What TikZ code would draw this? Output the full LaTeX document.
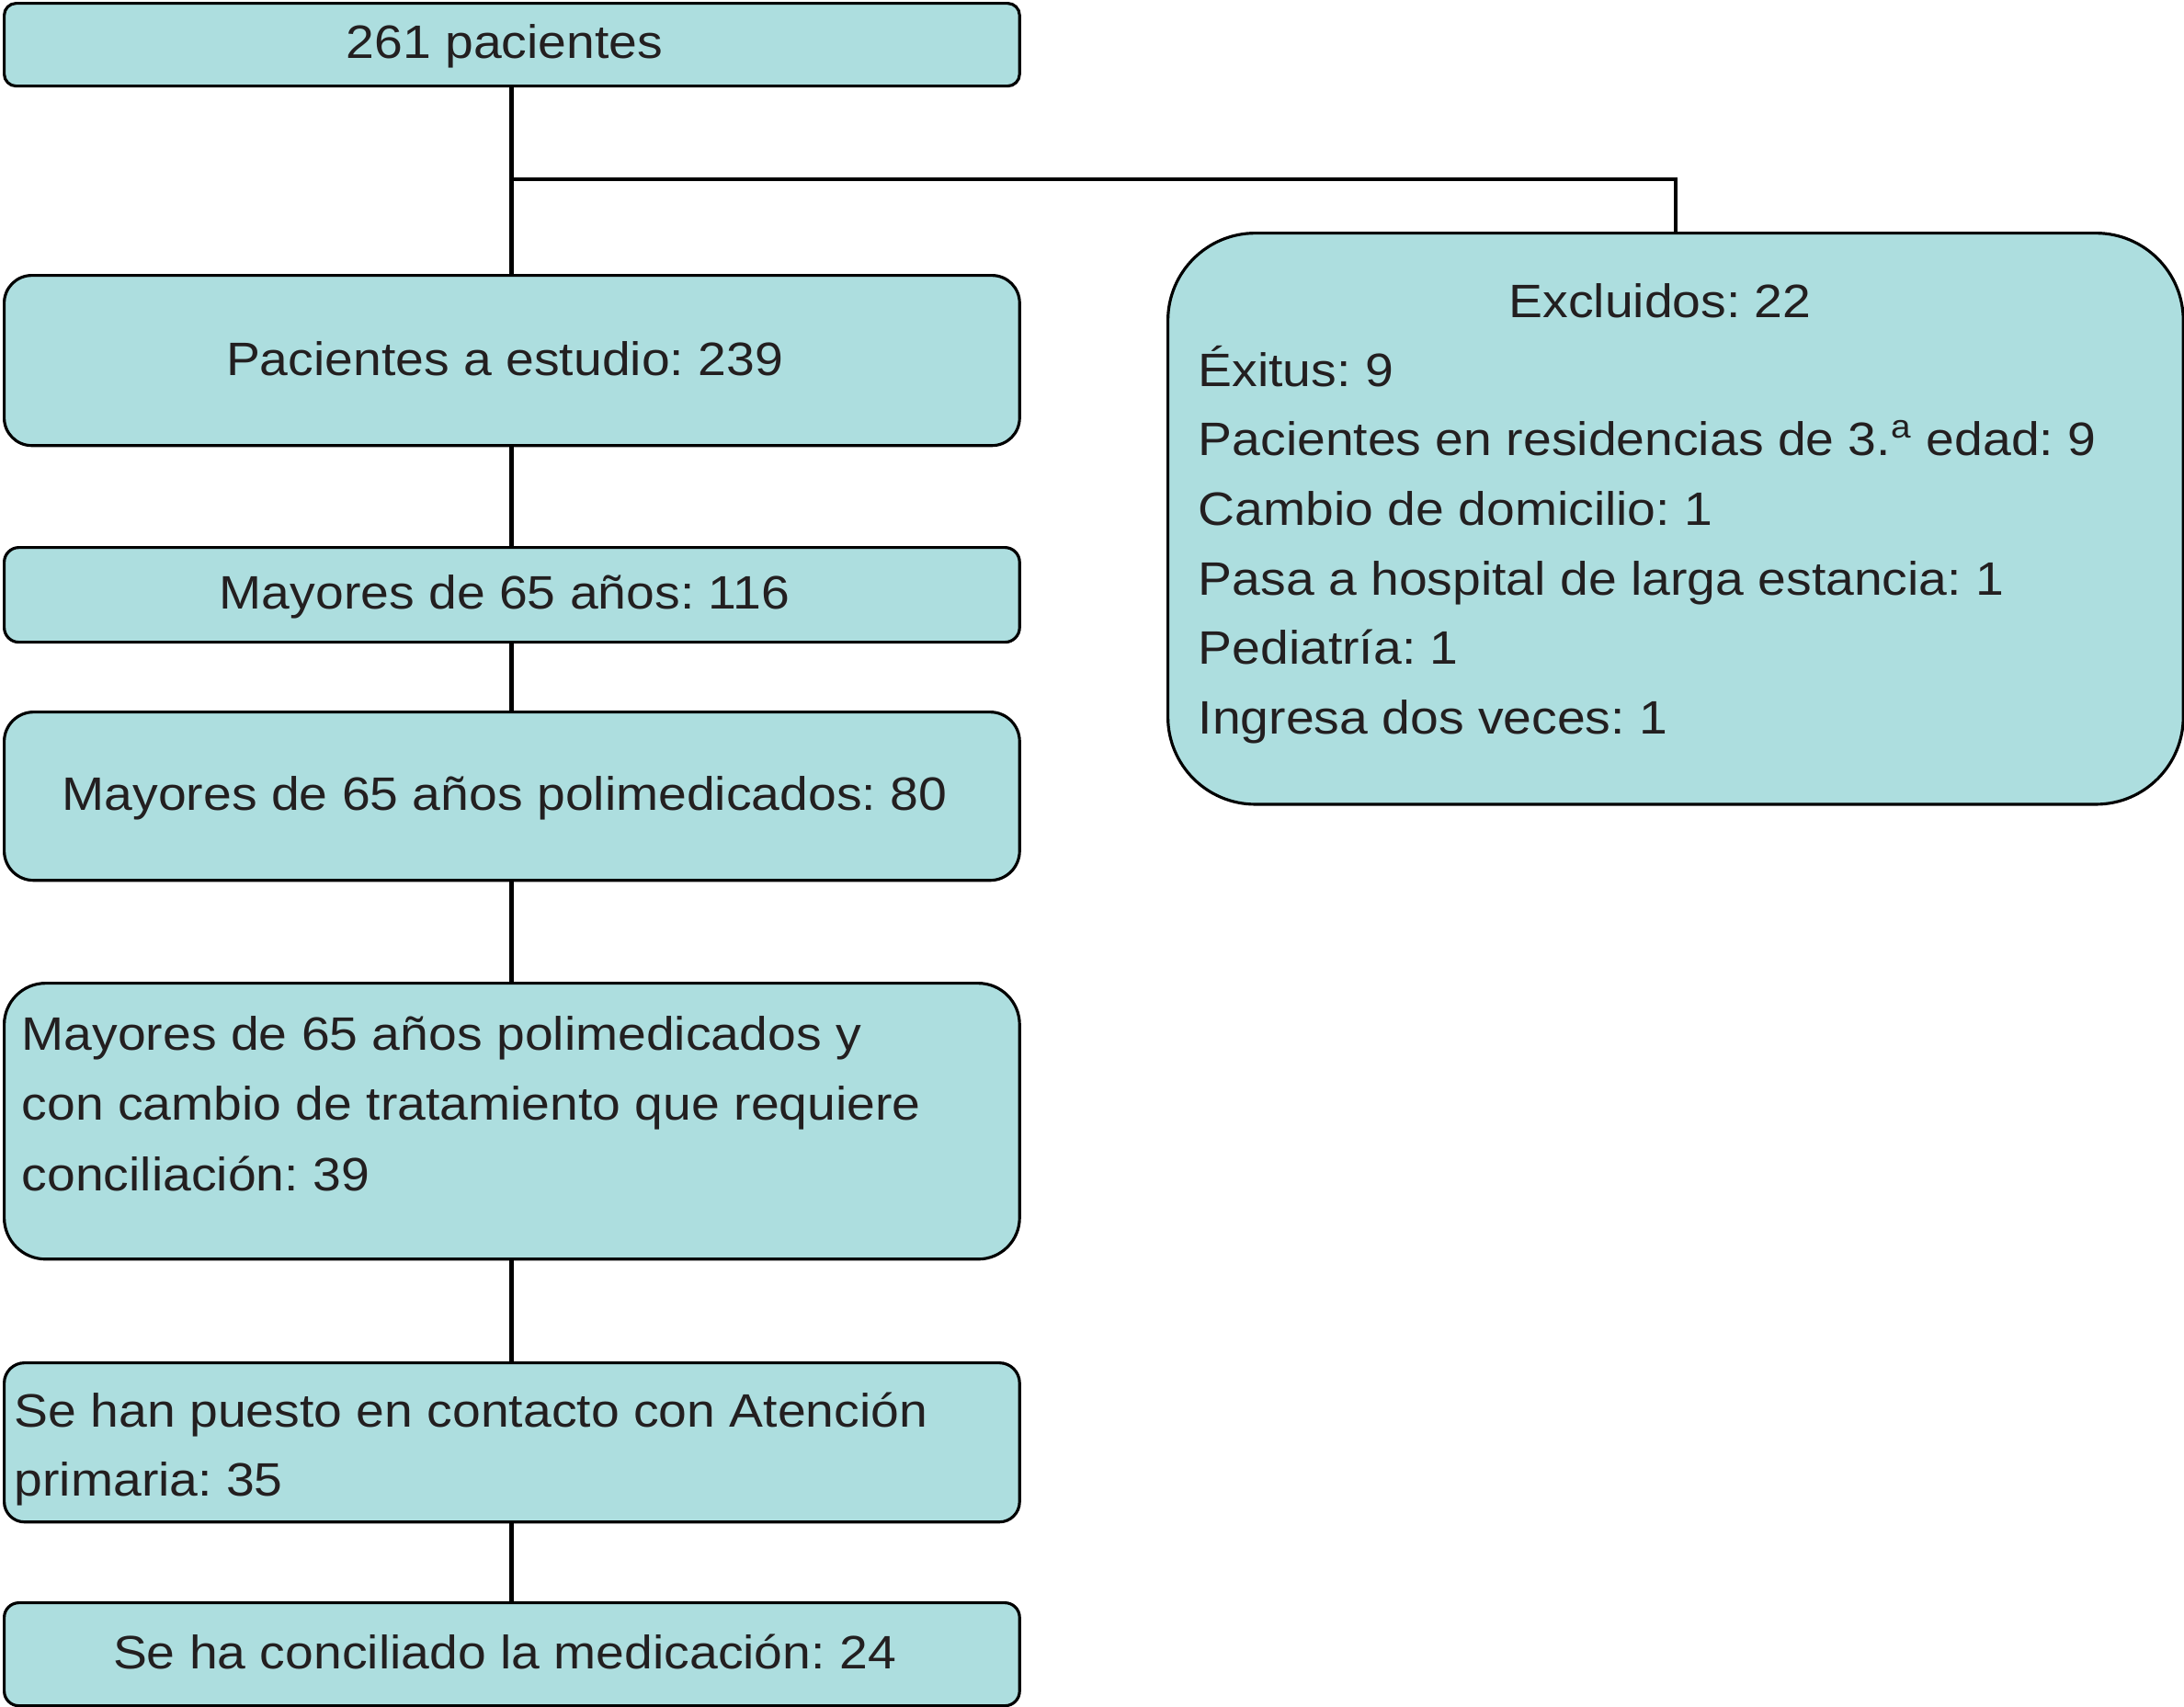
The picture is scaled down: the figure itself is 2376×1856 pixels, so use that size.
\documentclass[tikz,border=0pt]{standalone}
\usepackage{fontspec}
\setmainfont{Liberation Sans}[FakeStretch=1.085]
\definecolor{boxfill}{RGB}{173,222,223}
\definecolor{ink}{RGB}{35,31,32}
\frenchspacing
\begin{document}
\frenchspacing
\begin{tikzpicture}[x=0.01cm,y=-0.01cm,
  box/.style={draw=black, line width=0.9pt, fill=boxfill, inner sep=0pt, anchor=north west, minimum width=11.04cm},
  lbl/.style={inner sep=0pt, text=ink, font=\fontsize{14.5pt}{21.5pt}\selectfont},
  spine/.style={draw=black, line width=1.4pt},
  branch/.style={draw=black, line width=0.9pt}]
\useasboundingbox (0,0) rectangle (2376,1856);

% boxes
\node[box, minimum height=0.90cm, rounded corners=0.13cm] (b1) at (3,2) {};
\node[box, minimum height=1.85cm, rounded corners=0.30cm] (b2) at (3,298) {};
\node[box, minimum height=1.03cm, rounded corners=0.16cm] (b3) at (3,594) {};
\node[box, minimum height=1.83cm, rounded corners=0.32cm] (b4) at (3,773) {};
\node[box, minimum height=3.00cm, rounded corners=0.45cm] (b5) at (3,1068) {};
\node[box, minimum height=1.73cm, rounded corners=0.22cm] (b6) at (3,1481) {};
\node[box, minimum height=1.12cm, rounded corners=0.16cm] (b7) at (3,1742) {};
\node[box, minimum height=6.21cm, rounded corners=0.95cm] (ex) at (1269,252) {};

% connectors
\coordinate (j) at (555,195);
\draw[spine] (b1.south) -- (b2.north);
\draw[branch] (j) -| (ex.north);
\draw[spine] (b2.south) -- (b3.north);
\draw[spine] (b3.south) -- (b4.north);
\draw[spine] (b4.south) -- (b5.north);
\draw[spine] (b5.south) -- (b6.north);
\draw[spine] (b6.south) -- (b7.north);

% texts
\node[lbl, anchor=base] (t1) at (549,63) {261 pacientes};
\node[lbl, anchor=base] (t2) at (549,408) {Pacientes a estudio: 239};
\node[lbl, anchor=base] (t3) at (549,662) {Mayores de 65 años: 116};
\node[lbl, anchor=base] (t4) at (549,881) {Mayores de 65 años polimedicados: 80};
\node[lbl, anchor=base west] (t5a) at (23,1142) {Mayores de 65 años polimedicados y};
\node[lbl, anchor=base west] (t5b) at (23,1218) {con cambio de tratamiento que requiere};
\node[lbl, anchor=base west] (t5c) at (23,1295) {conciliación: 39};
\node[lbl, anchor=base west] (t6a) at (15,1552) {Se han puesto en contacto con Atención};
\node[lbl, anchor=base west] (t6b) at (15,1627) {primaria: 35};
\node[lbl, anchor=base] (t7) at (549,1815) {Se ha conciliado la medicación: 24};

\node[lbl, anchor=base] (e0) at (1806,345) {Excluidos: 22};
\node[lbl, anchor=base west] (e1) at (1303,420) {Éxitus: 9};
\node[lbl, anchor=base west] (e2) at (1303,495) {Pacientes en residencias de 3.\textsuperscript{a} edad: 9};
\node[lbl, anchor=base west] (e3) at (1303,571) {Cambio de domicilio: 1};
\node[lbl, anchor=base west] (e4) at (1303,647) {Pasa a hospital de larga estancia: 1};
\node[lbl, anchor=base west] (e5) at (1303,722) {Pediatría: 1};
\node[lbl, anchor=base west] (e6) at (1303,798) {Ingresa dos veces: 1};
\end{tikzpicture}
\end{document}
